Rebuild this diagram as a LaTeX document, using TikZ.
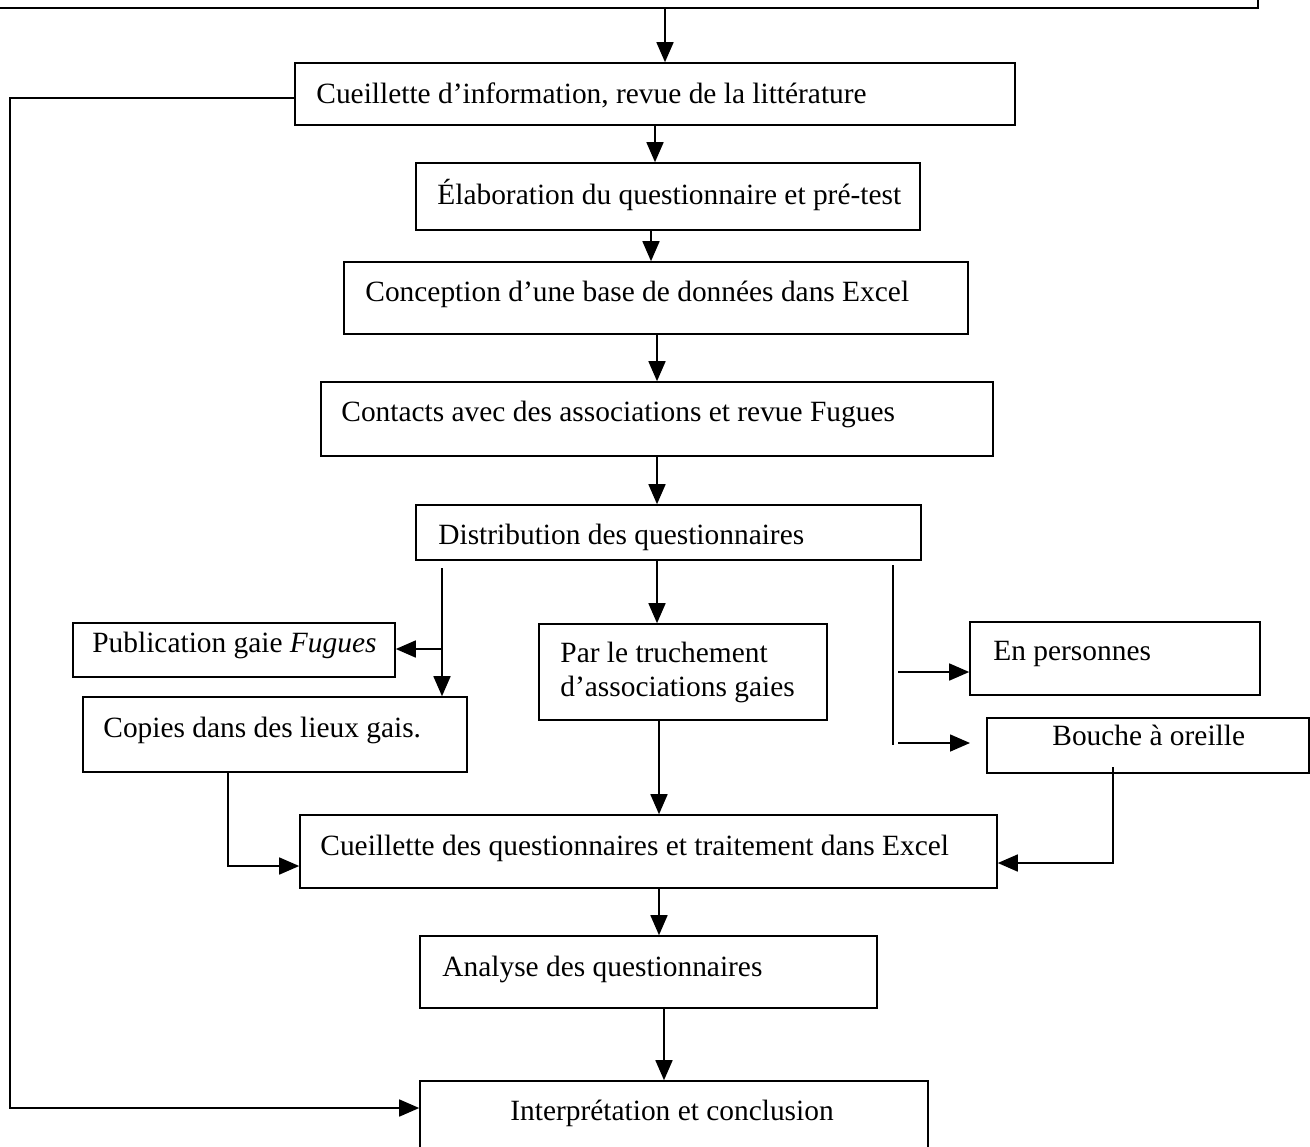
\documentclass[tikz,border=0pt]{standalone}
\usepackage{fontspec}
\setmainfont{Liberation Serif}
\usetikzlibrary{arrows.meta}
\begin{document}
\begin{tikzpicture}[x=0.5pt,y=-0.5pt,
  box/.style={draw, line width=0.8pt, inner sep=0pt},
  lbl/.style={inner sep=0pt, anchor=base west, font=\fontsize{14.7}{17}\selectfont},
  arr/.style={line width=0.8pt, -{Triangle[length=10pt,width=8.5pt]}},
  ln/.style={line width=0.8pt}]
\useasboundingbox (0,0) rectangle (1310,1146);
% boxes
\node[box, minimum width=639pt, minimum height=34pt] (top) at (619,-26) {};
\node[box, minimum width=360pt, minimum height=31pt] (b1) at (655,94) {};
\node[box, minimum width=252pt, minimum height=33.5pt] (b2) at (668,196.5) {};
\node[box, minimum width=312pt, minimum height=36pt] (b3) at (656,298) {};
\node[box, minimum width=336pt, minimum height=37pt] (b4) at (657,419) {};
\node[box, minimum width=252.5pt, minimum height=27.5pt] (b5) at (668.5,532.5) {};
\node[box, minimum width=161pt, minimum height=27pt] (b6) at (234,650) {};
\node[box, minimum width=192pt, minimum height=37.5pt] (b7) at (275,734.5) {};
\node[box, minimum width=144pt, minimum height=48pt] (b8) at (683,672) {};
\node[box, minimum width=145pt, minimum height=36.5pt] (b9) at (1115,658.5) {};
\node[box, minimum width=161pt, minimum height=27.5pt] (b10) at (1148,745.5) {};
\node[box, minimum width=348.5pt, minimum height=36.5pt] (b11) at (648.5,851.5) {};
\node[box, minimum width=228.5pt, minimum height=36pt] (b12) at (648.5,972) {};
\node[box, minimum width=254pt, minimum height=59.5pt] (b13) at (674,1140.5) {};
% texts
\node[lbl] (t1) at (316,103) {Cueillette d’information, revue de la littérature};
\node[lbl] (t2) at (437,204) {Élaboration du questionnaire et pré-test};
\node[lbl] (t3) at (365,301) {Conception d’une base de données dans Excel};
\node[lbl] (t4) at (341,421) {Contacts avec des associations et revue Fugues};
\node[lbl] (t5) at (438,544) {Distribution des questionnaires};
\node[lbl] (t6) at (92,652) {Publication gaie \textit{Fugues}};
\node[lbl] (t7) at (103,737) {Copies dans des lieux gais.};
\node[lbl] (t8a) at (560,662) {Par le truchement};
\node[lbl] (t8b) at (560,696) {d’associations gaies};
\node[lbl] (t9) at (993,660) {En personnes};
\node[lbl] (t10) at (1052,745) {Bouche à oreille};
\node[lbl] (t11) at (320,855) {Cueillette des questionnaires et traitement dans Excel};
\node[lbl] (t12) at (442,976) {Analyse des questionnaires};
\node[lbl] (t13) at (510,1120) {Interprétation et conclusion};
% coordinates
\coordinate (x0) at (665,0);
\coordinate (x1) at (655,0);
\coordinate (x2) at (651,0);
\coordinate (x3) at (657,0);
\coordinate (x8) at (659,0);
\coordinate (x12) at (664,0);
\coordinate (L0) at (442,568);
\coordinate (L1) at (442,649);
\coordinate (R0) at (893,565);
\coordinate (R1) at (893,745);
\coordinate (R2) at (898,672);
\coordinate (R3) at (898,743);
\coordinate (R3e) at (970,743);
\coordinate (C7) at (228,866);
\coordinate (C10) at (1113,767);
\coordinate (C10b) at (1113,863);
\coordinate (Lp0) at (10,98);
\coordinate (Lp1) at (10,1108);
% connectors
\draw[arr] (top.south -| x0) -- (b1.north -| x0);
\draw[arr] (b1.south -| x1) -- (b2.north -| x1);
\draw[arr] (b2.south -| x2) -- (b3.north -| x2);
\draw[arr] (b3.south -| x3) -- (b4.north -| x3);
\draw[arr] (b4.south -| x3) -- (b5.north -| x3);
\draw[arr] (b5.south -| x3) -- (b8.north -| x3);
\draw[arr] (L0) -- (b7.north -| L0);
\draw[arr] (L1) -- (b6.east |- L1);
\draw[ln] (R0) -- (R1);
\draw[arr] (R2) -- (b9.west |- R2);
\draw[arr] (R3) -- (R3e);
\draw[arr] (b7.south -| C7) -- (C7) -- (b11.west |- C7);
\draw[arr] (C10) -- (C10b) -- (b11.east |- C10b);
\draw[arr] (b8.south -| x8) -- (b11.north -| x8);
\draw[arr] (b11.south -| x8) -- (b12.north -| x8);
\draw[arr] (b12.south -| x12) -- (b13.north -| x12);
\draw[arr] (b1.west |- Lp0) -- (Lp0) -- (Lp1) -- (b13.west |- Lp1);
\end{tikzpicture}
\end{document}
